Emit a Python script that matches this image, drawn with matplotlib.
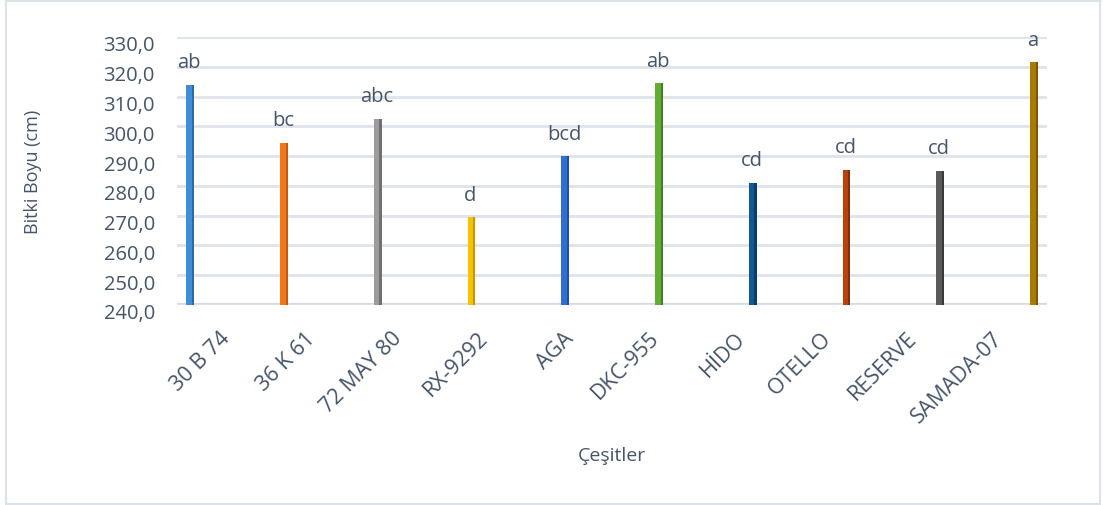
import matplotlib.pyplot as plt
import matplotlib.patches as patches
from matplotlib.transforms import ScaledTranslation
import numpy as np

# cultivars and mean plant height (cm)
cesitler = ['30 B 74', '36 K 61', '72 MAY 80', 'RX-9292', 'AGA', 'DKC-955',
            'HİDO', 'OTELLO', 'RESERVE', 'SAMADA-07']
boy = [314.0, 294.5, 302.5, 269.5, 290.0, 314.5, 281.0, 285.5, 285.0, 321.5]
harfler = ['ab', 'bc', 'abc', 'd', 'bcd', 'ab', 'cd', 'cd', 'cd', 'a']

renkler = ['#3f8fd8', '#f2761a', '#9c9c9c', '#f7c200', '#2f6fd4',
           '#62ad33', '#125894', '#b7420b', '#5a5a5a', '#a87c00']
yan_renkler = ['#2a6aa6', '#c45a0e', '#707070', '#c79600', '#1f4fa0',
               '#447f22', '#0b3d6a', '#852d05', '#3a3a3a', '#785700']

yazi = '#44546A'
plt.rcParams['font.family'] = ['Open Sans', 'DejaVu Sans']

fig = plt.figure(figsize=(11.03, 5.06), dpi=100)
fig.patches.append(patches.Rectangle((6 / 1103, 1 / 506), 1094 / 1103, 503 / 506,
                                     transform=fig.transFigure, fill=False,
                                     edgecolor='#dde2e8', linewidth=1.5))

ax = fig.add_axes([177 / 1103, 1 - 306 / 506, 870 / 1103, 268 / 506])

x = np.arange(len(cesitler))
alt = 240
yuk = [v - alt for v in boy]
ax.bar(x, yuk, bottom=alt, width=0.06, color=renkler, zorder=3, linewidth=0)
ax.bar(x + 0.04, yuk, bottom=alt, width=0.025, color=yan_renkler, zorder=3, linewidth=0)

for xi, v, h in zip(x, boy, harfler):
    ax.annotate(h, (xi, v), xytext=(0, 9), textcoords='offset points',
                ha='center', va='bottom', fontsize=14.5, color=yazi)

ax.set_ylim(240, 330)
ax.set_yticks(np.arange(240, 331, 10))
ax.set_yticklabels([f'{t:.1f}'.replace('.', ',') for t in np.arange(240, 331, 10)])
ax.set_xlim(-0.13, 9.15)
# the category labels sit on a slightly narrower spacing than the bars (3D look)
ax.set_xticks(x * 0.916 + 0.32)
ax.set_xticklabels(cesitler, rotation=45, ha='right', rotation_mode='anchor')

ax.grid(axis='y', color='#dfe3ea', linewidth=2, zorder=0)
ax.axhline(240, color='#d5dae2', linewidth=3, zorder=1)
for s in ax.spines.values():
    s.set_visible(False)
ax.tick_params(axis='both', length=0, labelcolor=yazi)
ax.tick_params(axis='y', labelsize=14.5, pad=16)
ax.tick_params(axis='x', labelsize=15.5, pad=16)
for lab in ax.get_yticklabels():
    lab.set_transform(lab.get_transform() + ScaledTranslation(0, -6 / 100, fig.dpi_scale_trans))

ax.set_ylabel('Bitki Boyu (cm)', fontsize=13, color=yazi, labelpad=44)
ax.set_xlabel('Çeşitler', fontsize=14, color=yazi, labelpad=14)

fig.savefig('out.png', dpi=100)
